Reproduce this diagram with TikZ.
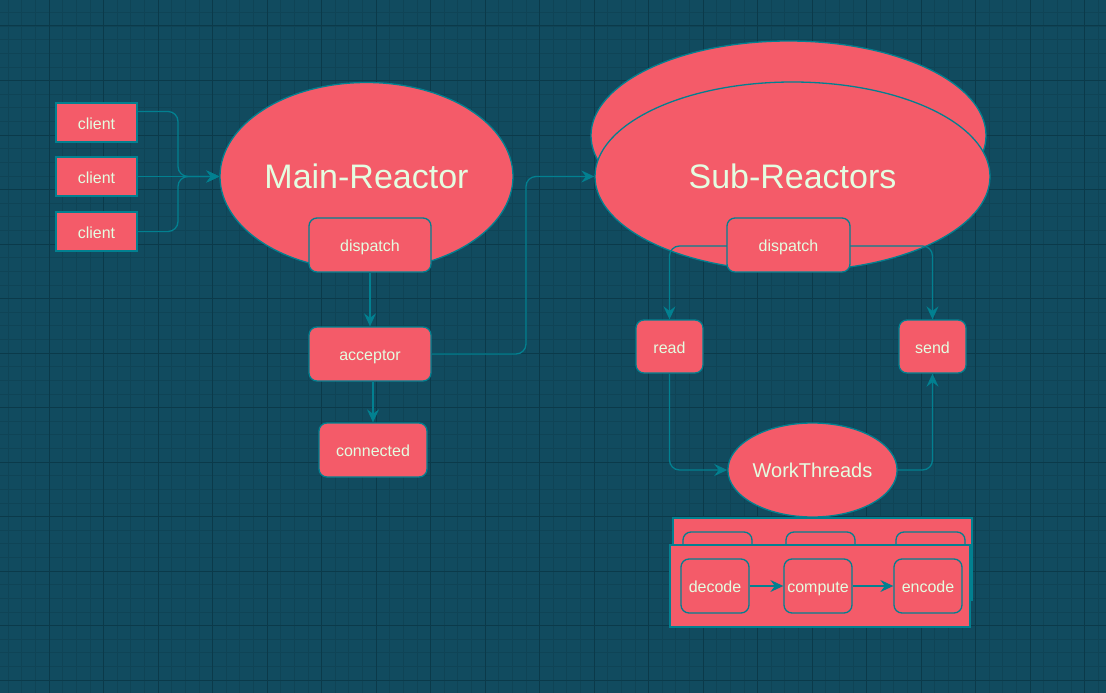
\documentclass[tikz,border=0pt]{standalone}
\usepackage{fontspec}
\setmainfont{Liberation Sans}
\usetikzlibrary{arrows.meta,shapes.geometric}
\definecolor{bgteal}{HTML}{114B5F}
\definecolor{gridminor}{HTML}{0F4456}
\definecolor{gridmajor}{HTML}{0B3A4A}
\definecolor{boxfill}{HTML}{F45B69}
\definecolor{boxline}{HTML}{028090}
\definecolor{boxtext}{HTML}{E4FDE1}

\begin{document}
\begin{tikzpicture}[x=1pt,y=1pt,yscale=-1,
    client/.style={draw=boxline,fill=boxfill,line width=1.3pt,inner sep=0pt,
        minimum width=81pt,minimum height=39pt,text=boxtext,font=\fontsize{16}{18}\selectfont,
        text height=14pt,text depth=1pt},
    rbox/.style={client,rounded corners=8pt},
    blob/.style={ellipse,draw=boxline,fill=boxfill,line width=1.3pt,inner sep=0pt,text=boxtext},
    panel/.style={draw=boxline,fill=boxfill,line width=1.3pt},
    conn/.style={draw=boxline,line width=1.3pt,rounded corners=10pt},
    arr/.style={conn,-{Stealth[length=13pt,width=12pt,inset=4.5pt]}}]
    \useasboundingbox (0,0) rectangle (1106,693);
    \fill[bgteal] (0,0) rectangle (1106,693);
    % grid
    \foreach \i in {0,...,81} \draw[gridminor,line width=0.6pt] ({8.125+\i*13.625},0) -- ++(0,693);
    \foreach \j in {0,...,50} \draw[gridminor,line width=0.6pt] (0,{12.375+\j*13.625}) -- ++(1106,0);
    \foreach \i in {0,...,19} \draw[gridmajor,line width=1pt] ({49+\i*54.5},0) -- ++(0,693);
    \foreach \j in {0,...,12} \draw[gridmajor,line width=1pt] (0,{26+\j*54.5}) -- ++(1106,0);

    % left side
    \node (client1) at (96.5,122.5) [client] {client};
    \node (client2) at (96.5,176.5) [client] {client};
    \node (client3) at (96.5,231.5) [client] {client};
    \node (mainreactor) at (366.5,176.5) [blob,minimum width=293pt,minimum height=188pt,
        font=\fontsize{34}{40}\selectfont] {Main-Reactor};
    \node (dispatchA) at (370,245) [rbox,minimum width=122pt,minimum height=54pt] {dispatch};
    \node (acceptor) at (370,354) [rbox,minimum width=122pt,minimum height=54pt] {acceptor};
    \node (connected) at (373,450) [rbox,minimum width=108pt,minimum height=54pt] {connected};

    % right side
    \node (subback) at (788.5,135.5) [blob,minimum width=395pt,minimum height=189pt] {};
    \node (subreactor) at (792.5,176.5) [blob,minimum width=395pt,minimum height=189pt,
        font=\fontsize{34}{40}\selectfont] {Sub-Reactors};
    \node (read) at (669.5,346.5) [rbox,minimum width=67pt,minimum height=53pt] {read};
    \node (send) at (932.5,346.5) [rbox,minimum width=67pt,minimum height=53pt] {send};
    \node (workthreads) at (812.5,470) [blob,minimum width=169pt,minimum height=94pt,
        font=\fontsize{20}{24}\selectfont] {WorkThreads};

    % thread pool stack
    \draw[panel] (673,518) rectangle (972,600);
    \draw[panel,rounded corners=8pt] (683,532) rectangle (752,586);
    \draw[panel,rounded corners=8pt] (786,532) rectangle (855,586);
    \draw[panel,rounded corners=8pt] (896,532) rectangle (965,586);
    \draw[panel] (670,545) rectangle (970,627);
    \node (decode) at (715,586) [rbox,minimum width=68pt,minimum height=54pt] {decode};
    \node (compute) at (818,586) [rbox,minimum width=68pt,minimum height=54pt] {compute};
    \node (encode) at (928,586) [rbox,minimum width=68pt,minimum height=54pt] {encode};

    % connectors
    \draw[arr] (client1.15) -| (178,176.5) -- (mainreactor.west);
    \draw[arr] (client3.east) -| (178,176.5) -- (mainreactor.west);
    \draw[arr] (client2.east) -- (mainreactor.west);
    \draw[arr] (dispatchA) -- (acceptor);
    \draw[arr] (acceptor.south -| connected) -- (connected.north);
    \draw[arr] (acceptor.east) -| (526,176.5) -- (subreactor.west);
    \draw[arr] (788.5,246) -| (read.north);
    \draw[arr] (788.5,246) -| (send.north);
    \node (dispatchB) at (788.5,245) [rbox,minimum width=123pt,minimum height=54pt] {dispatch};
    \draw[arr] (read.south) |- (workthreads.west);
    \draw[arr] (workthreads.east) -| (send.south);
    \draw[arr] (decode) -- (compute);
    \draw[arr] (compute) -- (encode);
\end{tikzpicture}
\end{document}
